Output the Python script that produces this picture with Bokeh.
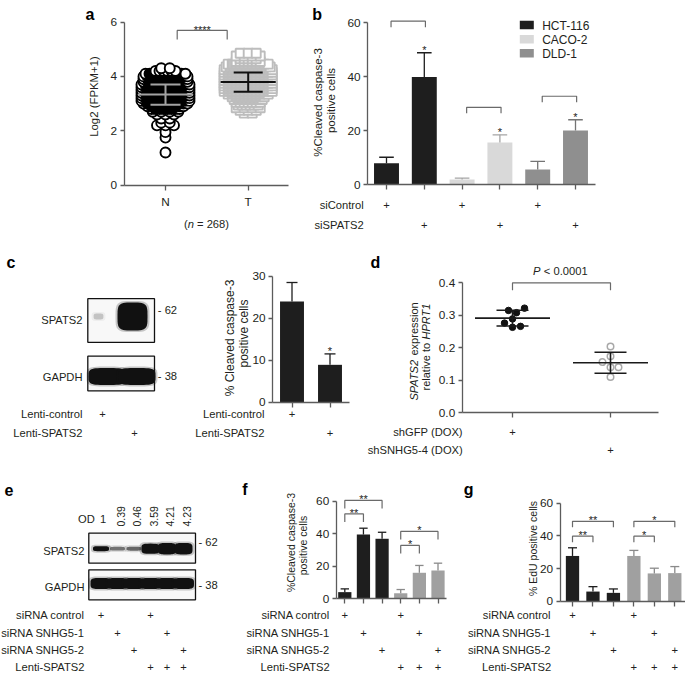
import math
import numpy as np
from bokeh.plotting import figure
from bokeh.models import Label, FixedTicker, Range1d, LinearAxis, PrintfTickFormatter, Grid
from bokeh.embed import file_html
from bokeh.resources import INLINE

# ======================= DATA =======================
# a  -- log2(FPKM+1), normal (N) vs tumour (T); swarm rows: level -> number of points
a_groups = ["N", "T"]
a_n_total = 268
a_N_levels = [1.2, 1.75, 1.95, 2.2, 2.3, 2.45, 2.6, 2.7, 2.8, 2.9, 3.0, 3.1, 3.2, 3.3,
              3.4, 3.5, 3.6, 3.7, 3.8, 3.9, 4.0, 4.1, 4.2, 4.3]
a_N_counts = [1, 1, 1, 3, 2, 2, 3, 4, 8, 10, 12, 13, 13, 13, 13, 13, 13, 13, 12, 12, 12, 11, 6, 2]
a_T_levels = [2.65, 2.75, 2.85, 2.95, 3.05, 3.15, 3.25, 3.35, 3.45, 3.55, 3.65, 3.75, 3.85,
              3.95, 4.05, 4.15, 4.25, 4.35, 4.45, 4.55, 4.65, 4.75, 4.85]
a_T_counts = [2, 3, 4, 6, 7, 8, 9, 11, 13, 13, 13, 13, 13, 13, 13, 13, 13, 12, 11, 7, 5, 4, 3]
a_mean = [3.33, 3.79]
a_sd = [0.375, 0.355]
a_sig = "****"

# b  -- % cleaved caspase-3 positive cells
b_cell_lines = ["HCT-116", "CACO-2", "DLD-1"]
b_siControl = [8.0, 2.0, 5.7]
b_siControl_sem = [2.2, 0.5, 3.0]
b_siSPATS2 = [39.9, 15.7, 20.1]
b_siSPATS2_sem = [9.0, 2.8, 4.0]
b_rows = ["siControl", "siSPATS2"]
b_table = [[1, 0, 1, 0, 1, 0], [0, 1, 0, 1, 0, 1]]
b_sig_top = [60.6, 28.7, 32.8]

# c  -- western blot + caspase-3
c_lanes = ["Lenti-control", "Lenti-SPATS2"]
c_blot_rows = ["SPATS2", "GAPDH"]
c_markers = ["- 62", "- 38"]
c_spats2_signal = [0.08, 1.0]
c_gapdh_signal = [1.0, 1.0]
c_caspase = [24.0, 8.9]
c_caspase_sem = [4.5, 2.6]

# d  -- SPATS2 expression relative to HPRT1
d_groups = ["shGFP (DOX)", "shSNHG5-4 (DOX)"]
d_shGFP = [0.315, 0.308, 0.322, 0.289, 0.276, 0.263, 0.266]
d_shSNHG5 = [0.204, 0.174, 0.140, 0.140, 0.156, 0.110]
d_pvalue = "< 0.0001"

# e / f / g
efg_rows = ["siRNA control", "siRNA SNHG5-1", "siRNA SNHG5-2", "Lenti-SPATS2"]
efg_table = [[1, 0, 0, 1, 0, 0],
             [0, 1, 0, 0, 1, 0],
             [0, 0, 1, 0, 0, 1],
             [0, 0, 0, 1, 1, 1]]
e_od = [1, 0.39, 0.46, 3.59, 4.21, 4.23]
e_gapdh_signal = [1, 1, 1, 1, 1, 1]
e_markers = ["- 62", "- 38"]
f_caspase = [4.1, 39.5, 36.9, 3.4, 16.0, 17.4]
f_sem = [2.0, 3.9, 4.0, 2.3, 4.5, 4.5]
f_sig_left = [0, 0, 3, 3]
f_sig_right = [1, 2, 4, 5]
f_sig_top = [52.2, 60.5, 32.8, 41.4]
f_sig_text = ["**", "**", "*", "*"]
g_edu = [27.7, 5.9, 5.1, 27.7, 17.0, 17.2]
g_sem = [5.0, 3.0, 2.4, 3.4, 3.2, 4.0]
g_sig_left = [0, 0, 3, 3]
g_sig_right = [1, 2, 4, 5]
g_sig_top = [39.8, 48.9, 39.8, 48.9]
g_sig_text = ["**", "**", "*", "*"]

# ======================= CANVAS / HELPERS =======================
FONT = "Liberation Sans"
FS = 11.2
INK = "#231f20"
AXIS = "#5c5c5c"
BRK = "#6a6a6a"
W, H = 685, 673

p = figure(width=W, height=H, x_range=Range1d(0, W), y_range=Range1d(H, 0),
           x_axis_location=None, y_axis_location=None, title=None,
           min_border_left=0, min_border_right=0, min_border_top=0, min_border_bottom=0,
           output_backend="svg", toolbar_location=None, outline_line_color=None,
           background_fill_color="white", border_fill_color="white")
for gr in p.select(type=Grid):
    gr.visible = False
XR, YR = {}, {}


class Pane:
    """One panel: its own x / y ranges, calibrated on pixel positions of the page."""

    def __init__(self, key, xcal, ycal):
        (xd0, xp0), (xd1, xp1) = xcal
        (yd0, yp0), (yd1, yp1) = ycal
        self.kx = (xd1 - xd0) / (xp1 - xp0)
        self.ky = (yd1 - yd0) / (yp1 - yp0)
        self.xd0, self.xp0, self.yd0, self.yp0 = xd0, xp0, yd0, yp0
        XR[key + "x"] = Range1d(self.X(0), self.X(W))
        YR[key + "y"] = Range1d(self.Y(H), self.Y(0))
        self.r = dict(x_range_name=key + "x", y_range_name=key + "y")

    def X(self, px):
        return self.xd0 + (px - self.xp0) * self.kx

    def Y(self, py):
        return self.yd0 + (py - self.yp0) * self.ky

    def PX(self, x):
        return self.xp0 + (x - self.xd0) / self.kx

    def PY(self, y):
        return self.yp0 + (y - self.yd0) / self.ky

    def dx(self, px):
        return px * self.kx

    def dy(self, px):
        return -px * self.ky


def put(px, py, text, size=FS, align="center", baseline="middle", angle=0.0,
        style="normal", color=INK):
    p.add_layout(Label(x=px, y=py, text=text, text_font=FONT,
                       text_font_size=f"{size}px", text_align=align,
                       text_baseline=baseline, angle=angle,
                       text_font_style=style, text_color=color))


def vrot(px, py, text, size=FS, align="center", style="normal"):
    put(px, py, text, size=size, align=align, angle=math.pi / 2, style=style)


def letter(px, py, ch):
    put(px, py, ch, size=16, align="left", baseline="alphabetic", style="bold",
        color="#000000")


def axes(pane, axis_px, right_px, yticks, ytop, xticks, xlabels=None, fmt=None):
    ya = LinearAxis(ticker=FixedTicker(ticks=yticks), bounds=(0, ytop),
                    fixed_location=pane.X(axis_px), **pane.r)
    if fmt:
        ya.formatter = PrintfTickFormatter(format=fmt)
    xa = LinearAxis(ticker=FixedTicker(ticks=xticks),
                    bounds=(pane.X(axis_px), pane.X(right_px)), fixed_location=0, **pane.r)
    for ax in (ya, xa):
        ax.axis_line_color = AXIS
        ax.axis_line_width = 1.3
        ax.major_tick_line_color = AXIS
        ax.major_tick_line_width = 1.3
        ax.minor_tick_line_color = None
        ax.major_tick_in = 0
        ax.major_tick_out = 4
        ax.major_label_text_font = FONT
        ax.major_label_text_font_size = f"{FS + 0.6}px"
        ax.major_label_text_color = INK
        ax.major_label_standoff = 3
    xa.major_tick_out = 5
    if xlabels:
        xa.major_label_overrides = {t: l for t, l in zip(xticks, xlabels)}
        xa.major_label_standoff = 5
    else:
        xa.major_label_overrides = {t: "" for t in xticks}
    p.add_layout(ya, "left")
    p.add_layout(xa, "below")


def bracket(pane, x0, x1, top, drop_px, color=BRK, lw=1.2):
    bot = top - pane.dy(drop_px)
    p.multi_line(xs=[[x0, x0, x1, x1]], ys=[[bot, top, top, bot]], line_color=color,
                 line_width=lw, **pane.r)


def errbars(pane, xs, tops, errs, cap_px, colors, lw=1.3):
    hx = pane.dx(cap_px)
    ends = [t + e for t, e in zip(tops, errs)]
    p.segment(x0=xs, y0=tops, x1=xs, y1=ends, line_color=colors, line_width=lw, **pane.r)
    p.segment(x0=[x - hx for x in xs], y0=ends, x1=[x + hx for x in xs], y1=ends,
              line_color=colors, line_width=lw, **pane.r)


def stars(pane, x, y, text, lift_px=2, size=11):
    put(pane.PX(x), pane.PY(y) - lift_px, text, size=size, baseline="alphabetic",
        color="#222222")


def table(pane, right_px, rows_py, names, flags, xs, size=FS):
    for name, py, fl in zip(names, rows_py, flags):
        put(right_px, py, name, size=size, align="right")
        for x, f in zip(xs, fl):
            if f:
                put(pane.PX(x), py, "+", size=size)


def band(pane, x, y, w_px, h_px, alpha, halo=True):
    """A blot band: rounded (super-elliptic) blob around lane x / row y."""
    t = np.linspace(0, 2 * math.pi, 48, endpoint=False)
    c, s = np.cos(t), np.sin(t)
    ux = np.sign(c) * np.abs(c) ** 0.5
    uy = np.sign(s) * np.abs(s) ** 0.5
    if halo:
        p.patch(list(x + pane.dx((w_px / 2 + 2) * ux)), list(y + pane.dy((h_px / 2 + 1.5) * uy)),
                fill_color="#111111", fill_alpha=alpha * 0.22, line_color=None, **pane.r)
    p.patch(list(x + pane.dx(w_px / 2 * ux)), list(y + pane.dy(h_px / 2 * uy)),
            fill_color="#111111", fill_alpha=alpha, line_color=None, **pane.r)


# ======================= PANEL a =======================
PA = Pane("a", ((1, 165), (2, 247.7)), ((0, 184.7), (6, 21.5)))
axes(PA, 123.5, 288, [0, 2, 4, 6], 6, [1, 2], xlabels=a_groups)


def swarm_rows(levels, counts, xc, pane, dense_px, sparse_px):
    xs, ys, dense = [], [], []
    for lvl, cnt in zip(levels, counts):
        s = dense_px if cnt >= 5 else sparse_px
        for k in range(cnt):
            xs.append(xc + pane.dx((k - (cnt - 1) / 2.0) * s))
            ys.append(lvl)
            dense.append(cnt >= 8 and 0 < k < cnt - 1)
    return xs, ys, dense


nx, ny, nd = swarm_rows(a_N_levels, a_N_counts, 1, PA, 4.0, 8.5)
p.scatter(nx, ny, marker="circle", size=10, line_color="#000000", line_width=1.9,
          fill_color=["#000000" if d else "white" for d in nd], **PA.r)
tx, ty, td = swarm_rows(a_T_levels, a_T_counts, 2, PA, 4.0, 8.0)
p.scatter(tx, ty, marker="square", size=9, line_color="#bdbdbd", line_width=1.9,
          fill_color=["#c2c2c2" if d else "white" for d in td], **PA.r)
for gi, col, half, cap in [(0, "#a3a3a3", 27.5, 15), (1, "#111111", 27.5, 14.5)]:
    xc, m, s = gi + 1, a_mean[gi], a_sd[gi]
    hx, cx = PA.dx(half), PA.dx(cap)
    p.segment(x0=[xc - hx, xc - cx, xc - cx, xc], y0=[m, m + s, m - s, m - s],
              x1=[xc + hx, xc + cx, xc + cx, xc], y1=[m, m + s, m - s, m + s],
              line_color=col, line_width=2, **PA.r)
bx0, bx1 = 1 + PA.dx(11.7), 2 - PA.dx(21)
bracket(PA, bx0, bx1, 5.69, 9)
stars(PA, (bx0 + bx1) / 2, 5.69, a_sig, lift_px=0, size=11)
letter(85, 14, "a")
vrot(93, 96, "Log2 (FPKM+1)", size=11.4)
put(183.5, 223, "(", align="left")
put(187.2, 223, "n", align="left", style="italic")
put(196.5, 223, f"= {a_n_total})", align="left")

# ======================= PANEL b =======================
PB = Pane("b", ((0, 386), (5, 575)), ((0, 184.3), (60, 22.3)))
axes(PB, 367, 595, [0, 20, 40, 60], 60, list(range(6)))
b_colors = ["#1e1e1e", "#d9d9d9", "#8f8f8f"]
b_err_colors = ["#1e1e1e", "#a5a5a5", "#747474"]
for i, name in enumerate(b_cell_lines):
    xs = [2 * i, 2 * i + 1]
    tops = [b_siControl[i], b_siSPATS2[i]]
    p.vbar(x=xs, top=tops, width=0.66, fill_color=b_colors[i], line_color=None, **PB.r)
    errbars(PB, xs, tops, [b_siControl_sem[i], b_siSPATS2_sem[i]], 7.3,
            [b_err_colors[i]] * 2)
    bracket(PB, 2 * i + 0.12, 2 * i + 1.03, b_sig_top[i], 6)
    stars(PB, 2 * i + 1, b_siSPATS2[i] + b_siSPATS2_sem[i], "*", lift_px=3)
    # legend entry
    p.rect(x=[526.3], y=[24.6 + 14.1 * i], width=[14], height=[8.5],
           width_units="screen", height_units="screen", fill_color=b_colors[i],
           line_color=None)
    put(541.7, 25 + 14.1 * i, name, size=12, align="left")
letter(311.7, 14, "b")
vrot(317.5, 102, "%Cleaved caspase-3", size=11.5)
vrot(330.5, 100, "positive cells", size=11.5)
table(PB, 363.3, [204, 224], b_rows, b_table, list(range(6)))

# ======================= PANEL c (blot) =======================
PCB = Pane("cb", ((0, 102), (1, 134)), ((0, 373), (1, 320)))
for yrow, half_px in [(1, 21.85), (0, 17.3)]:
    p.quad(left=[0 - PCB.dx(14.7)], right=[1 + PCB.dx(20)],
           bottom=[yrow - PCB.dy(half_px)], top=[yrow + PCB.dy(half_px)],
           fill_color="#f8f8f8", line_color="#111111", line_width=1.3, **PCB.r)
for lane, sig in enumerate(c_spats2_signal):
    band(PCB, lane + PCB.dx(-2 if lane else -4), 1 + PCB.dy(4), 8 + 22 * sig,
         4 + 24 * sig, min(1.0, 0.12 + 0.88 * sig))
for lane, sig in enumerate(c_gapdh_signal):
    band(PCB, lane + PCB.dx(4.5 - 2 * lane), 0 + PCB.dy(-3), 37 * sig, 17 * sig, 1.0)
letter(6, 262, "c")
for name, py in zip(c_blot_rows, [319, 376]):
    put(82, py, name, align="right")
for mk, py in zip(c_markers, [309, 375]):
    put(157.3, py, mk, align="left")
table(PCB, 82, [413.3, 432.7], c_lanes, [[1, 0], [0, 1]], [0, 1])

# ======================= PANEL c (bars) =======================
PC = Pane("c", ((0, 291.5), (1, 329.5)), ((0, 401.7), (30, 275.7)))
axes(PC, 272, 349, [0, 10, 20, 30], 30, [0, 1])
p.vbar(x=[0, 1], top=c_caspase, width=0.63, fill_color="#1e1e1e", line_color=None, **PC.r)
errbars(PC, [0, 1], c_caspase, c_caspase_sem, 5.5, ["#1e1e1e"] * 2)
stars(PC, 1, c_caspase[1] + c_caspase_sem[1], "*", lift_px=3)
vrot(229, 337.5, "% Cleaved caspase-3", size=12)
vrot(243, 333, "positive cells", size=12)
table(PC, 264, [413.3, 432.7], c_lanes, [[1, 0], [0, 1]], [0, 1])

# ======================= PANEL d =======================
PD = Pane("d", ((0, 512), (1, 610)), ((0, 412.3), (0.4, 282.3)))
axes(PD, 461.7, 658.3, [0, 0.1, 0.2, 0.3, 0.4], 0.4, [0, 1], fmt="%.1f")


def swarm(vals, pane, diam_px, step_px):
    ypx = [v / pane.dy(1) for v in vals]
    placed, offs = [], [0.0] * len(vals)
    for i in sorted(range(len(vals)), key=lambda k: vals[k]):
        cands = [0.0]
        for k in range(1, 30):
            cands += [k * step_px, -k * step_px]
        c = 0.0
        for c in cands:
            if all((c - a) ** 2 + (ypx[i] - b) ** 2 >= diam_px ** 2 for a, b in placed):
                break
        placed.append((c, ypx[i]))
        offs[i] = c
    return offs


for gi, (vals, style) in enumerate([(d_shGFP, "filled"), (d_shSNHG5, "open")]):
    offs = swarm(vals, PD, 7.0, 4.0)
    xs = [gi + PD.dx(o) for o in offs]
    if style == "filled":
        p.scatter(xs, vals, marker="circle", size=6.5, fill_color="#111111",
                  line_color="#111111", **PD.r)
    else:
        p.scatter(xs, vals, marker="circle", size=6.5, fill_color="white",
                  line_color="#a9a9a9", line_width=1.5, **PD.r)
    m, s = float(np.mean(vals)), float(np.std(vals, ddof=1))
    hx, cx = PD.dx(37.5), PD.dx(16)
    p.segment(x0=[gi - hx, gi - cx, gi - cx, gi], y0=[m, m + s, m - s, m - s],
              x1=[gi + hx, gi + cx, gi + cx, gi], y1=[m, m + s, m - s, m + s],
              line_color="#1a1a1a", line_width=1.6, **PD.r)
bracket(PD, 0, 1, 0.4, 7.5)
put(532.5, 270.7, "P", align="left", style="italic")
put(543.3, 270.7, d_pvalue, align="left")
letter(370, 262, "d")
vrot(413.3, 400, "SPATS2", size=11, align="left", style="italic")
vrot(413.3, 355, "expression", size=11, align="left")
vrot(425, 390, "relative to", size=11, align="left")
vrot(425, 339, "HPRT1", size=11, align="left", style="italic")
table(PD, 462.3, [431, 449.3], d_groups, [[1, 0], [0, 1]], [0, 1])

# ======================= PANEL e (blot) =======================
PE = Pane("e", ((0, 100.5), (5, 183)), ((0, 584.3), (1, 547.7)))
for yrow in [1, 0]:
    p.quad(left=[0 - PE.dx(12.2)], right=[5 + PE.dx(12)], bottom=[yrow - PE.dy(15)],
           top=[yrow + PE.dy(15)], fill_color="#f8f8f8", line_color="#111111",
           line_width=1.3, **PE.r)
for lane, od in enumerate(e_od):
    band(PE, lane, 1 + PE.dy(-0.5), 14 + 2 * min(od, 2.0), 3 + 2 * min(od, 4.2),
         min(1.0, 0.22 + 0.78 * od))
for lane, sig in enumerate(e_gapdh_signal):
    band(PE, lane, 0 + PE.dy(1.3), 21 * sig, 11 * sig, 1.0)
letter(4, 489, "e")
put(86, 518.3, "OD")
for lane, od in enumerate(e_od):
    lab = f"{od:g}"
    if lane == 0:
        put(PE.PX(lane) + 2, 518.3, lab)
    else:
        vrot(PE.PX(lane) + 3.2, 526, lab, size=10.5, align="left")
for name, py in zip(["SPATS2", "GAPDH"], [550, 586]):
    put(84, py, name, align="right")
for mk, py in zip(e_markers, [541.7, 584.3]):
    put(198, py, mk, align="left")
EFG_ROWS_Y = [614.3, 632.3, 649.3, 666.7]
table(PE, 84, EFG_ROWS_Y, efg_rows, efg_table, list(range(6)))

# ======================= PANEL f =======================
PF = Pane("f", ((0, 344.3), (5, 437.5)), ((0, 598.3), (60, 500.7)))
axes(PF, 335.7, 446, [0, 20, 40, 60], 60, list(range(6)))
fg_colors = ["#1e1e1e"] * 3 + ["#a0a0a0"] * 3
fg_err = ["#1e1e1e"] * 3 + ["#8a8a8a"] * 3
p.vbar(x=list(range(6)), top=f_caspase, width=0.71, fill_color=fg_colors, line_color=None,
       **PF.r)
errbars(PF, list(range(6)), f_caspase, f_sem, 4.2, fg_err)
for l, r, t, s in zip(f_sig_left, f_sig_right, f_sig_top, f_sig_text):
    bracket(PF, l, r, t, 8)
    stars(PF, (l + r) / 2, t, s, lift_px=1)
letter(241.7, 489, "f")
vrot(290, 542, "%Cleaved caspase-3", size=10.5)
vrot(302.3, 545, "positive cells", size=10.5)
table(PF, 329.3, EFG_ROWS_Y, efg_rows, efg_table, list(range(6)))

# ======================= PANEL g =======================
PG = Pane("g", ((0, 572), (5, 674.3)), ((0, 600.7), (60, 502.7)))
axes(PG, 559.5, 685, [0, 20, 40, 60], 60, list(range(6)))
p.vbar(x=list(range(6)), top=g_edu, width=0.65, fill_color=fg_colors, line_color=None,
       **PG.r)
errbars(PG, list(range(6)), g_edu, g_sem, 4.5, fg_err)
for l, r, t, s in zip(g_sig_left, g_sig_right, g_sig_top, g_sig_text):
    bracket(PG, l, r, t, 6)
    stars(PG, (l + r) / 2, t, s, lift_px=1)
letter(463.3, 489, "g")
vrot(532, 548, "% EdU positive cells", size=10.5)
table(PG, 550.7, EFG_ROWS_Y, efg_rows, efg_table, list(range(6)))

p.extra_x_ranges = XR
p.extra_y_ranges = YR
open("out.html", "w").write(file_html(p, INLINE))
